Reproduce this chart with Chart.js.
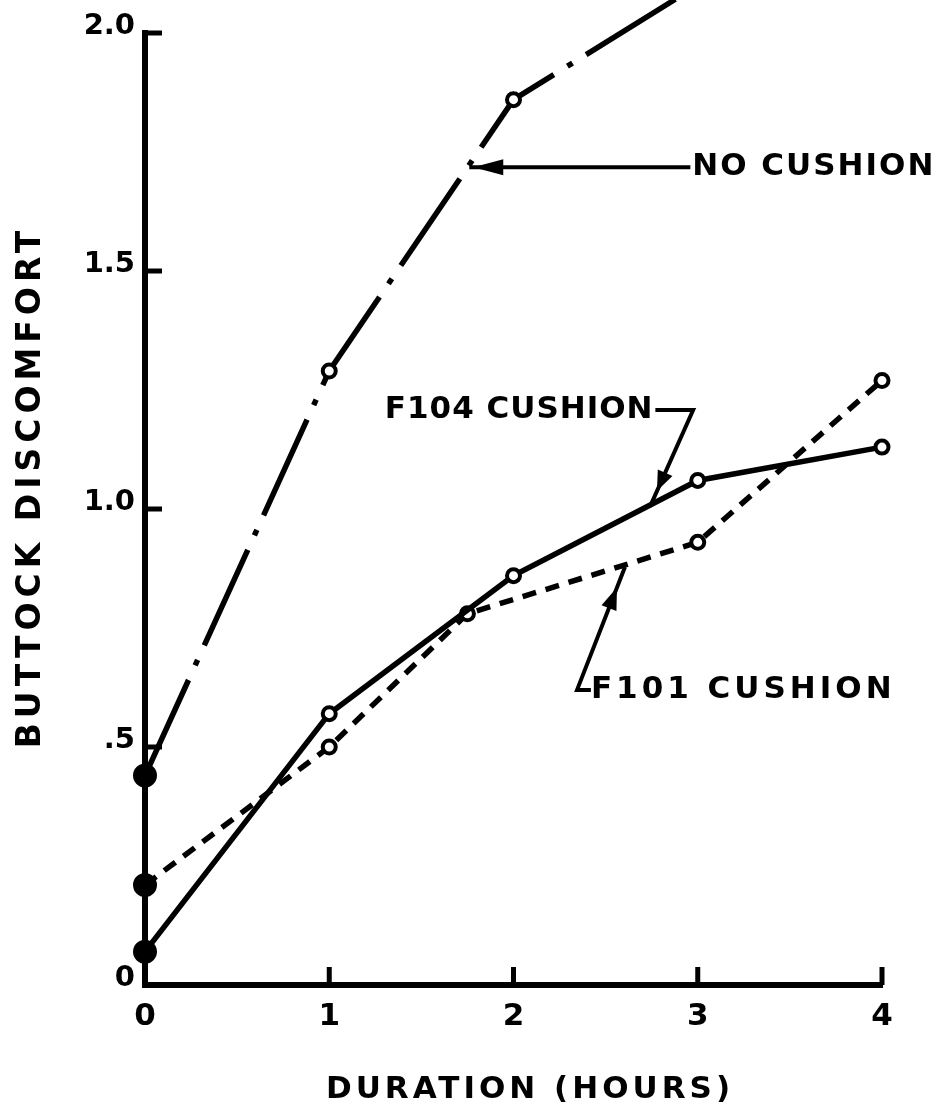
<!DOCTYPE html>
<html>
<head>
<meta charset="utf-8">
<title>Buttock discomfort vs duration</title>
<script src="https://cdn.jsdelivr.net/npm/chart.js@4.4.1/dist/chart.umd.min.js"></script>
<style>
    html, body { margin: 0; padding: 0; background: #fff; }
    #wrap { width: 942px; height: 1112px; }
</style>
</head>
<body>
<div id="wrap"><canvas id="discomfortChart" width="942" height="1112"></canvas></div>
<script>
// Data
const hours = [0, 1, 2, 3, 4];
const hourLabels = ['0', '1', '2', '3', '4'];
const yTicks = [0, 0.5, 1.0, 1.5, 2.0];
const yTickLabels = ['0', '.5', '1.0', '1.5', '2.0'];

const noCushionHours = [0, 1, 2, 3];
const noCushion = [0.44, 1.29, 1.86, 2.10];

const f104Hours = [0, 1, 2, 3, 4];
const f104Cushion = [0.07, 0.57, 0.86, 1.06, 1.13];

const f101Hours = [0, 1, 1.75, 3, 4];
const f101Cushion = [0.21, 0.50, 0.78, 0.93, 1.27];

const FONT = '"DejaVu Sans", sans-serif';

function toPoints(xs, ys) {
    return xs.map((x, i) => ({ x: x, y: ys[i] }));
}

// first point of each curve is a filled dot, the rest are open circles
function dotColors(n) {
    return Array.from({ length: n }, (_, i) => i === 0 ? '#000' : '#fff');
}
function dotSizes(n) {
    return Array.from({ length: n }, (_, i) => i === 0 ? 10 : 6.5);
}

function makeDataset(label, xs, ys, dash) {
    return {
        label: label,
        data: toPoints(xs, ys),
        borderColor: '#000',
        borderWidth: 5.5,
        borderDash: dash,
        pointBackgroundColor: dotColors(xs.length),
        pointBorderColor: '#000',
        pointBorderWidth: 4,
        pointRadius: dotSizes(xs.length),
        tension: 0,
        fill: false,
        clip: false
    };
}

// draw a line with a filled arrow head placed "back" px before its tip
function arrowLine(ctx, pts, back, len, half) {
    ctx.beginPath();
    ctx.moveTo(pts[0][0], pts[0][1]);
    for (let i = 1; i < pts.length; i++) ctx.lineTo(pts[i][0], pts[i][1]);
    ctx.stroke();
    const a = pts[pts.length - 2], b = pts[pts.length - 1];
    const dx = b[0] - a[0], dy = b[1] - a[1];
    const d = Math.hypot(dx, dy), ux = dx / d, uy = dy / d;
    const px = b[0] - ux * back, py = b[1] - uy * back;
    const bx = px - ux * len, by = py - uy * len;
    ctx.beginPath();
    ctx.moveTo(px, py);
    ctx.lineTo(bx - uy * half, by + ux * half);
    ctx.lineTo(bx + uy * half, by - ux * half);
    ctx.closePath();
    ctx.fill();
}

// inward ticks, axis titles and the curve labels
const decorPlugin = {
    id: 'decor',
    afterDraw(chart) {
        const ctx = chart.ctx;
        const xs = chart.scales.x, ys = chart.scales.y;
        const area = chart.chartArea;
        const P = (x, y) => [xs.getPixelForValue(x), ys.getPixelForValue(y)];

        ctx.save();
        ctx.strokeStyle = '#000';
        ctx.fillStyle = '#000';
        ctx.lineWidth = 5;
        ctx.lineCap = 'butt';

        yTicks.forEach(v => {
            if (v === 0) return;
            const py = ys.getPixelForValue(v);
            ctx.beginPath();
            ctx.moveTo(area.left, py);
            ctx.lineTo(area.left + 17, py);
            ctx.stroke();
        });
        hours.forEach(v => {
            if (v === 0) return;
            const px = xs.getPixelForValue(v);
            ctx.beginPath();
            ctx.moveTo(px, area.bottom);
            ctx.lineTo(px, area.bottom - 18);
            ctx.stroke();
        });

        // axis titles
        ctx.textBaseline = 'middle';
        ctx.textAlign = 'center';
        ctx.font = 'bold 31px ' + FONT;
        ctx.letterSpacing = '4px';
        ctx.fillText('DURATION (HOURS)', 530, 1090);

        ctx.save();
        ctx.translate(31, 487);
        ctx.rotate(-Math.PI / 2);
        ctx.font = 'bold 33px ' + FONT;
        ctx.letterSpacing = '5px';
        ctx.fillText('BUTTOCK DISCOMFORT', 0, 0);
        ctx.restore();

        // curve labels with leader arrows
        ctx.lineWidth = 4;
        ctx.font = 'bold 31px ' + FONT;

        ctx.textAlign = 'left';
        ctx.letterSpacing = '2px';
        const noAt = P(2.97, 1.718);
        ctx.fillText('NO CUSHION', noAt[0], noAt[1]);
        arrowLine(ctx, [P(2.96, 1.718), P(1.76, 1.718)], 4, 30, 8);

        ctx.textAlign = 'right';
        ctx.letterSpacing = '1px';
        const f104At = P(2.76, 1.208);
        ctx.fillText('F104 CUSHION', f104At[0], f104At[1]);
        arrowLine(ctx, [P(2.77, 1.208), P(2.975, 1.208), P(2.741, 1.005)], 17, 20, 8);

        ctx.textAlign = 'left';
        ctx.letterSpacing = '4px';
        const f101At = P(2.42, 0.62);
        ctx.fillText('F101 CUSHION', f101At[0], f101At[1]);
        arrowLine(ctx, [P(2.42, 0.62), P(2.345, 0.62), P(2.605, 0.878)], 22, 22, 8);

        ctx.restore();
    }
};

document.addEventListener('DOMContentLoaded', function () {
    const ctx = document.getElementById('discomfortChart').getContext('2d');

    new Chart(ctx, {
        type: 'line',
        data: {
            datasets: [
                makeDataset('NO CUSHION', noCushionHours, noCushion, [105, 16, 6, 16]),
                makeDataset('F104 CUSHION', f104Hours, f104Cushion, []),
                makeDataset('F101 CUSHION', f101Hours, f101Cushion, [14, 10])
            ]
        },
        options: {
            responsive: false,
            animation: false,
            devicePixelRatio: 1,
            layout: { padding: { top: 33, right: 60, left: 0, bottom: 0 } },
            plugins: {
                legend: { display: false },
                tooltip: { enabled: false }
            },
            scales: {
                x: {
                    type: 'linear',
                    min: 0,
                    max: 4,
                    afterBuildTicks: s => { s.ticks = hours.map(v => ({ value: v })); },
                    afterFit: s => { s.height = 127; },
                    grid: { display: false, drawTicks: false },
                    border: { display: true, color: '#000', width: 6 },
                    ticks: {
                        color: '#000',
                        padding: 13,
                        maxRotation: 0,
                        autoSkip: false,
                        font: { family: FONT, weight: 'bold', size: 31 },
                        callback: v => hourLabels[hours.indexOf(v)]
                    }
                },
                y: {
                    type: 'linear',
                    min: 0,
                    max: 2,
                    afterBuildTicks: s => { s.ticks = yTicks.map(v => ({ value: v })); },
                    afterFit: s => { s.width = 145; },
                    grid: { display: false, drawTicks: false },
                    border: { display: true, color: '#000', width: 6 },
                    ticks: {
                        color: '#000',
                        padding: 10,
                        labelOffset: -7,
                        autoSkip: false,
                        font: { family: FONT, weight: 'bold', size: 29 },
                        callback: v => yTickLabels[yTicks.indexOf(v)]
                    }
                }
            }
        },
        plugins: [decorPlugin]
    });
});
</script>
</body>
</html>
